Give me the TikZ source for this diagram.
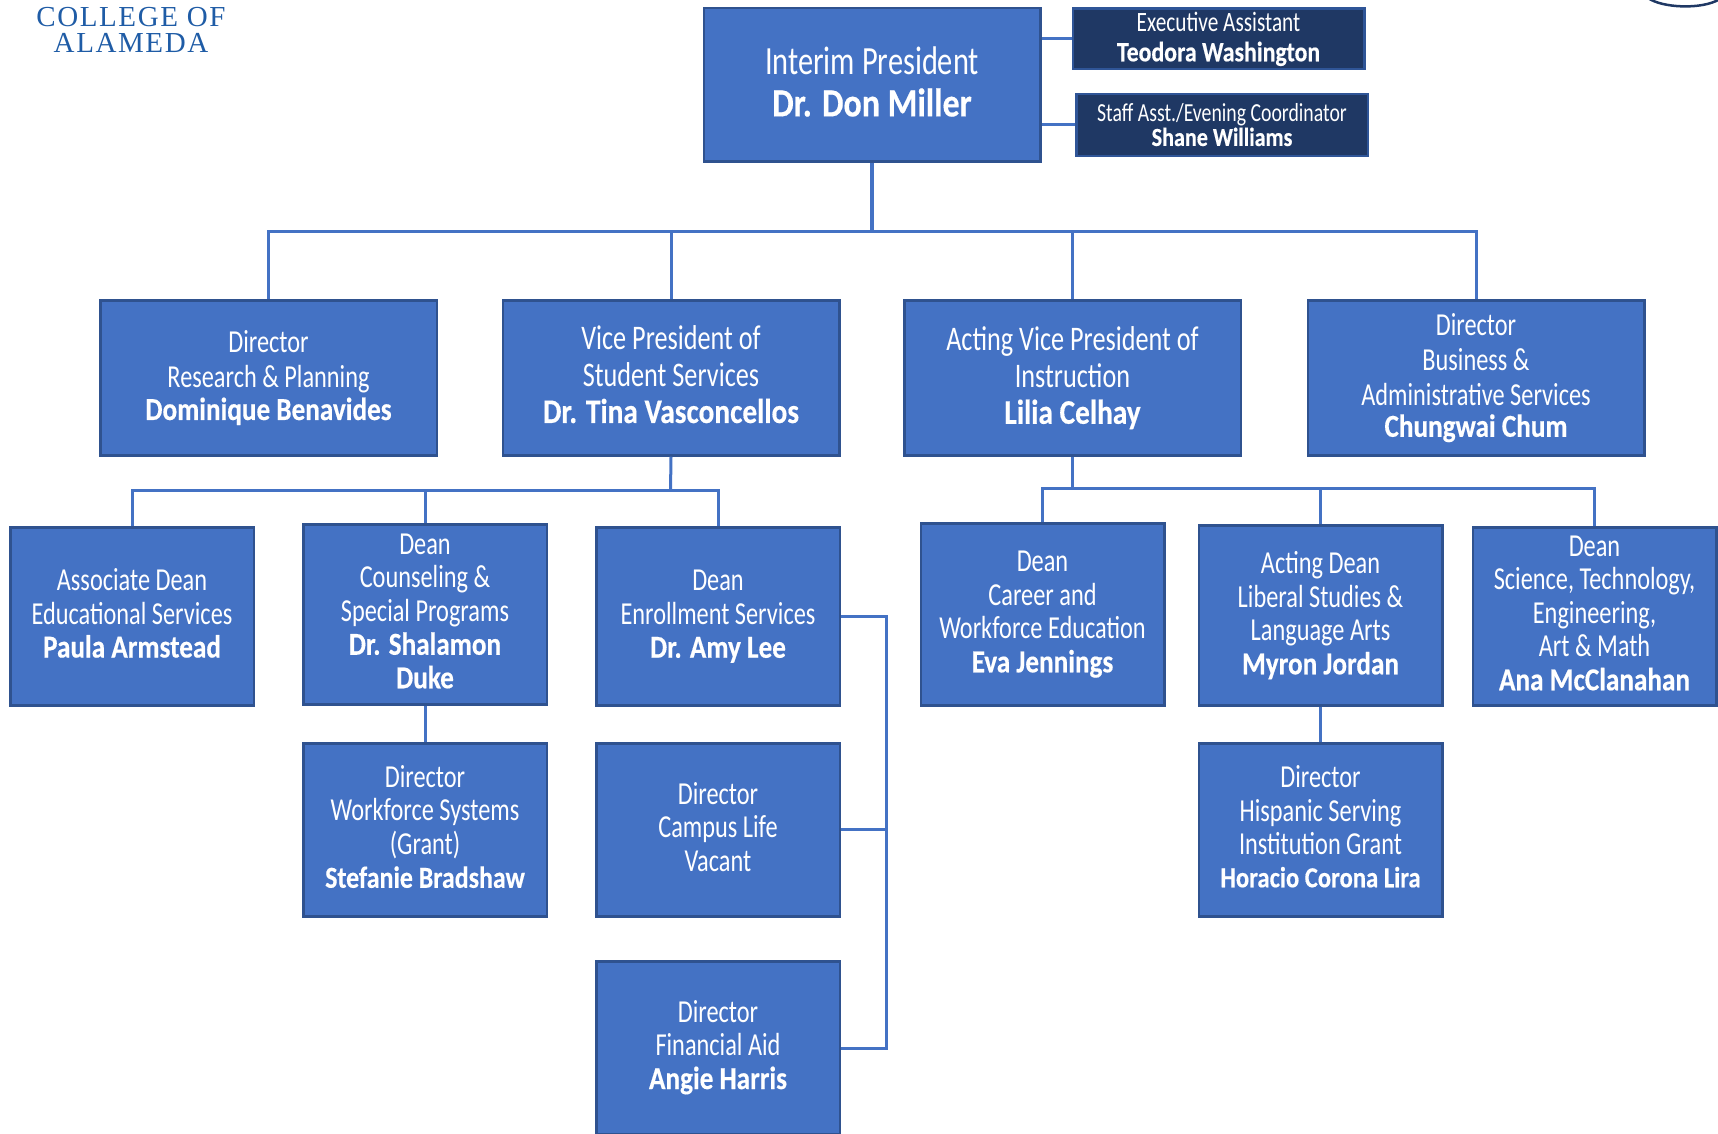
\documentclass[tikz,border=0pt]{standalone}
\usepackage{fontspec}
\setmainfont{Carlito}[FakeStretch=0.76, BoldFeatures={FakeStretch=0.85,FakeBold=0.4}]
\newfontfamily\logofont{Liberation Serif}[LetterSpace=5.5]
\definecolor{boxBlue}{HTML}{4472C4}
\definecolor{boxEdge}{HTML}{2F528F}
\definecolor{navyFill}{HTML}{1F3864}
\definecolor{navyEdge}{HTML}{2F5597}
\definecolor{logoBlue}{HTML}{1F5CA6}
\tikzset{%
  % Specifications for style of nodes:
      base/.style = {rectangle, draw=boxEdge, line width=2.5pt, fill=boxBlue,
                     text=white, align=center, inner sep=0pt},
   topRole/.style = {base, minimum width=336.5pt, minimum height=153.5pt,
                     font=\fontsize{40}{42}\selectfont},
   aideBox/.style = {base, draw=navyEdge, fill=navyFill, minimum width=291.5pt,
                     font=\fontsize{28}{30}\selectfont},
  chiefBox/.style = {base, minimum width=336.5pt, minimum height=155pt,
                     font=\fontsize{32}{35}\selectfont},
   viceBox/.style = {chiefBox, font=\fontsize{34.5}{36.5}\selectfont},
   deanBox/.style = {base, minimum width=243.5pt, minimum height=178pt,
                     font=\fontsize{32}{33.5}\selectfont},
    subBox/.style = {deanBox, minimum height=173pt},
    lifted/.style = {execute at end node={\rule[-7pt]{0pt}{0pt}}},
      link/.style = {draw=boxBlue, line width=3pt},
}

\begin{document}
\begin{tikzpicture}[x=1pt, y=1pt]
  \path[use as bounding box] (0,0) rectangle (1718,1133);
  % Logo and the bit of seal at the corner
  \node (logoText) [text=logoBlue, align=center, inner sep=0pt,
      font=\logofont\fontsize{29}{26}\selectfont] at (131,1103) {COLLEGE OF\\ALAMEDA};
  \draw[draw=navyFill, line width=2.5pt] (1648,1135) .. controls (1662,1125) and (1702,1123) .. (1720,1134);
  % Specification of nodes (position, etc.)
  \node (president) [topRole, lifted] at (872,1048) {Interim President\\ \textbf{Dr. Don Miller}};
  \node (execAsst) [aideBox, minimum height=60.5pt] at (1218.5,1094) {Executive Assistant\\ \textbf{Teodora Washington}};
  \node (staffAsst) [aideBox, minimum height=62pt, font=\fontsize{26}{24}\selectfont] at (1222,1008) {Staff Asst./Evening Coordinator\\ \textbf{Shane Williams}};

  \node (benavides) [chiefBox] at (268.5,755) {Director\\ Research \& Planning\\[-3pt] \textbf{Dominique Benavides}};
  \node (vasconcellos) [viceBox, lifted] at (671,755) {Vice President of\\ Student Services\\ \textbf{Dr. Tina Vasconcellos}};
  \node (celhay) [viceBox] at (1072.5,755) {Acting Vice President of\\ Instruction\\ \textbf{Lilia Celhay}};
  \node (chum) [chiefBox] at (1476,755) {Director\\ Business \&\\ Administrative Services\\[-4pt] \textbf{Chungwai Chum}};

  \node (armstead) [deanBox, lifted] at (132,516.5) {Associate Dean\\ Educational Services\\ \textbf{Paula Armstead}};
  \node (duke) [deanBox, lifted, minimum height=180pt] at (425,518.5) {Dean\\ Counseling \&\\ Special Programs\\ \textbf{Dr. Shalamon}\\ \textbf{Duke}};
  \node (lee) [deanBox] at (718,516.5) {Dean\\ Enrollment Services\\ \textbf{Dr. Amy Lee}};
  \node (jennings) [deanBox, minimum height=182pt] at (1042.5,518.5) {Dean\\ Career and\\ Workforce Education\\ \textbf{Eva Jennings}};
  \node (jordan) [deanBox, minimum height=180pt] at (1320.5,517.5) {Acting Dean\\ Liberal Studies \&\\ Language Arts\\ \textbf{Myron Jordan}};
  \node (mcclanahan) [deanBox, lifted] at (1594.5,516.5) {Dean\\ Science, Technology,\\ Engineering,\\ Art \& Math\\ \textbf{Ana McClanahan}};

  \node (bradshaw) [subBox, lifted] at (425,303) {Director\\ Workforce Systems\\ (Grant)\\ \fontsize{30.5}{33.5}\selectfont\textbf{Stefanie Bradshaw}};
  \node (campusLife) [subBox, lifted] at (718,303) {Director\\ Campus Life\\ Vacant};
  \node (corona) [subBox, lifted] at (1320.5,303) {Director\\ Hispanic Serving\\ Institution Grant\\[-1pt] \fontsize{29}{33.5}\selectfont\textbf{Horacio Corona Lira}};
  \node (harris) [subBox, lifted] at (718,85) {Director\\ Financial Aid\\ \textbf{Angie Harris}};

  % Junction points of the lines
  \coordinate (busTop) at (872,901);
  \coordinate (busStudent) at (670.5,642);
  \coordinate (busInstr) at (1072.5,644);
  \coordinate (busAid) at (886,303);

  % Specification of lines between nodes specified above
  \draw[link, line width=3.5pt] (president.south) -- (busTop);
  \draw[link] (busTop) -| (benavides.north);
  \draw[link] (busTop) -| (vasconcellos.north);
  \draw[link] (busTop) -| (celhay.north);
  \draw[link] (busTop) -| (chum.north);
  \draw[link] (execAsst.west) -- (execAsst.west -| president.east);
  \draw[link] (staffAsst.west) -- (staffAsst.west -| president.east);
  \draw[link] (vasconcellos.south) -- (busStudent);
  \draw[link] (busStudent) -| (armstead.north);
  \draw[link] (busStudent) -| (duke.north);
  \draw[link] (busStudent) -| (lee.north);
  \draw[link] (celhay.south) -- (busInstr);
  \draw[link] (busInstr) -| (jennings.north);
  \draw[link] (busInstr) -| (jordan.north);
  \draw[link] (busInstr) -| (mcclanahan.north);
  \draw[link] (duke.south) -- (bradshaw.north);
  \draw[link] (jordan.south) -- (corona.north);
  \draw[link] (lee.east) -| (busAid);
  \draw[link] (campusLife.east) -- (busAid);
  \draw[link] (harris.east) -| (busAid);
\end{tikzpicture}
\end{document}
